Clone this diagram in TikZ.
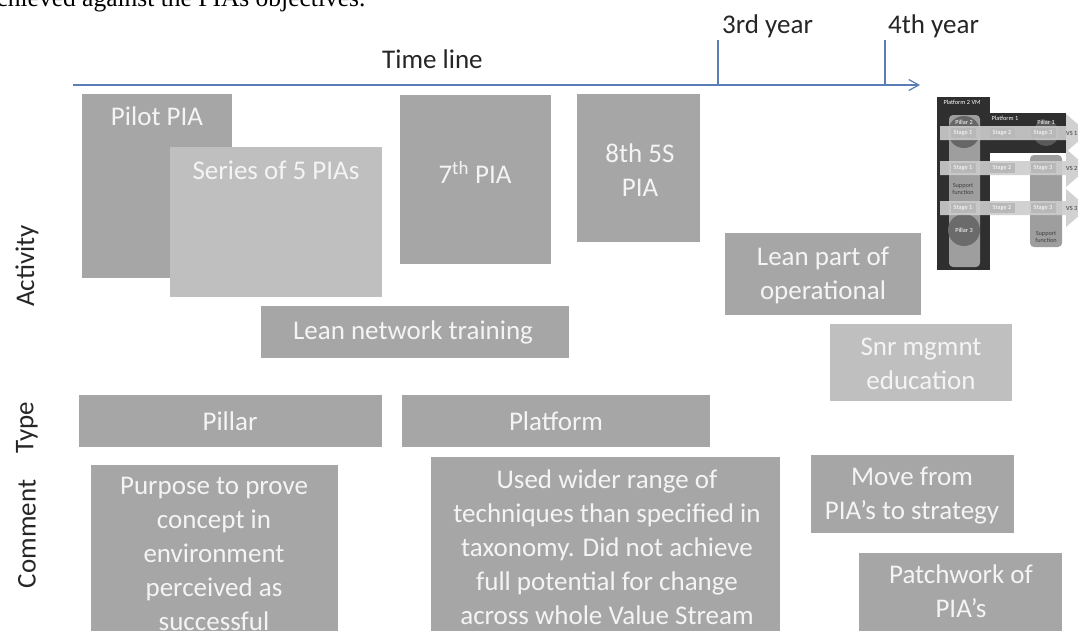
\documentclass[tikz,border=0pt]{standalone}
\usepackage{fontspec}
\setmainfont{Carlito}
\newfontfamily\capfont{Liberation Serif}
\usetikzlibrary{arrows.meta}
\pgfdeclarelayer{bg}
\pgfsetlayers{bg,main}
\definecolor{boxdark}{HTML}{A6A6A6}
\definecolor{boxlight}{HTML}{BFBFBF}
\definecolor{boxtext}{HTML}{F4F4F4}
\definecolor{tlblue}{HTML}{5A7DB5}
\definecolor{insetdark}{HTML}{2F2F2F}
\definecolor{colgray}{HTML}{9E9E9E}
\definecolor{vsgray}{HTML}{CDCDCD}
\definecolor{stagegray}{HTML}{B8B8B8}
\tikzset{
  box/.style={rectangle, inner sep=0, outer sep=0, anchor=north west, fill=boxdark},
  lbox/.style={box, fill=boxlight},
  txt/.style={text=boxtext, font=\fontsize{27}{34}\selectfont, align=center, inner sep=0},
  axislabel/.style={font=\fontsize{27}{32}\selectfont, rotate=90, text=black!85, inner sep=0},
  yearlabel/.style={font=\fontsize{27}{30}\selectfont, text=black!85, inner sep=0, anchor=base west},
  conn/.style={line width=3pt, black},
  tl/.style={line width=1.2pt, tlblue},
  tiny/.style={font=\fontsize{6.3}{7}\selectfont, inner sep=0, align=center},
}
\newcommand\bx[6]{\node[#1, minimum width={#4-#2}, minimum height={#5-#3}] (#6) at (#2,#3) {};}
\newcommand\vsarrow[1]{\fill[vsgray, opacity=0.9] (940,#1-7) -- (1066,#1-7) -- (1066,#1-19) -- (1088,#1) -- (1066,#1+19) -- (1066,#1+7) -- (940,#1+7) -- cycle;}
\newcommand\stagebox[3]{\node[tiny, fill=stagegray, text=white, minimum width=25, minimum height=10] at (#1,#2) {Stage #3};}
\begin{document}
\begin{tikzpicture}[x=1pt, y=-1pt]
\useasboundingbox (0,0) rectangle (1078,630);
\clip (0,0) rectangle (1078,630);
\fill[white] (0,0) rectangle (1078,630);

% caption fragment
\node[anchor=base west, inner sep=0, font=\capfont\fontsize{25.5}{28}\selectfont] (cap) at (-15,6) {achieved against the PIAs objectives.};

% time line
\coordinate (tl0) at (73,85);
\coordinate (tl1) at (920,85);
\coordinate (y3) at (718,40);
\coordinate (y4) at (885,40);
\draw[tl, -{Straight Barb[length=10pt, width=11pt, line width=1.2pt]}] (tl0) -- (tl1);
\draw[tl] (y3) -- (y3 |- tl0);
\draw[tl] (y4) -- (y4 |- tl0);
\node[yearlabel] (y3t) at (722,33) {3rd year};
\node[yearlabel] (y4t) at (888,33) {4th year};
\node[yearlabel] (tlt) at (382,68) {Time line};

% axis labels
\node[axislabel] (act) at (27,266) {Activity};
\node[axislabel] (typ) at (27,428) {Type};
\node[axislabel] (com) at (27,534) {Comment};

% boxes
\bx{box}{82}{94}{232}{278}{pilot}
\node[txt] (pilott) at (157,116) {Pilot PIA};
\bx{lbox}{170}{147}{382}{297}{series}
\node[txt] (seriest) at (276,170) {Series of 5 PIAs};
\bx{box}{400}{95}{551}{264}{seventh}
\node[txt] (seventht) at (475,172) {7\textsuperscript{th} PIA};
\bx{box}{577}{94}{700}{242}{eighth}
\node[txt] (eightht) at (640,170) {8th 5S\\PIA};
\bx{box}{261}{306}{569}{358}{leannet}
\node[txt] (leannett) at (413,332) {Lean network training};
\bx{box}{79}{395}{382}{447}{pillar}
\node[txt] (pillart) at (230,421) {Pillar};
\bx{box}{402}{395}{710}{447}{platform}
\node[txt] (platformt) at (556,421) {Platform};
\bx{box}{91}{465}{338}{660}{purpose}
\node[txt] (purposet) at (214,554) {Purpose to prove\\concept in\\environment\\perceived as\\successful};
\bx{box}{431}{457}{780}{660}{used}
\node[txt] (usedt) at (607,547) {Used wider range of\\techniques than specified in\\taxonomy. Did not achieve\\full potential for change\\across whole Value Stream};
\bx{box}{725}{233}{921}{315}{leanpart}
\node[txt] (leanpartt) at (823,275) {Lean part of\\operational};
\bx{lbox}{830}{324}{1012}{401}{snr}
\node[txt] (snrt) at (921,364) {Snr mgmnt\\education};
\bx{box}{811}{455}{1014}{533}{move}
\node[txt] (movet) at (912,496) {Move from\\PIA's to strategy};
\bx{box}{859}{553}{1062}{660}{patch}
\node[txt] (patcht) at (961,591) {Patchwork of\\PIA's};

% inset: platform / pillar sketch
\fill[insetdark] (937,97) rectangle (990,270);
\fill[insetdark] (990,113) rectangle (1066,153);
\node[tiny, text=white] (p2vm) at (962,102) {Platform 2 VM};
\node[tiny, text=white] (p1) at (1005,118) {Platform 1};
\fill[colgray, rounded corners=4] (949,115) rectangle (980,267);
\fill[colgray, rounded corners=4] (1030,155) rectangle (1062,247);
\fill[black!60] (964,132) circle (16);
\fill[black!65] (1046,133) circle (13);
\fill[black!58] (964,230) circle (16);
\node[tiny, text=white] (pil2) at (964,122) {Pillar 2};
\node[tiny, text=white] (pil1) at (1046,122) {Pillar 1};
\node[tiny, text=white] (pil3) at (964,230) {Pillar 3};
\vsarrow{133}
\vsarrow{168}
\vsarrow{208}
\stagebox{963}{133}{1}\stagebox{1002}{133}{2}\stagebox{1043}{133}{3}
\stagebox{963}{168}{1}\stagebox{1002}{168}{2}\stagebox{1043}{168}{3}
\stagebox{963}{208}{1}\stagebox{1002}{208}{2}\stagebox{1043}{208}{3}
\node[tiny, text=black!80, anchor=west] (vs1) at (1066,133) {VS 1};
\node[tiny, text=black!80, anchor=west] (vs2) at (1066,168) {VS 2};
\node[tiny, text=black!80, anchor=west] (vs3) at (1066,208) {VS 3};
\node[tiny, text=black!75] (sf1) at (963,189) {Support\\function};
\node[tiny, text=black!75] (sf2) at (1046,237) {Support\\function};
\coordinate (insetfoot) at (1053,253);

% connectors (behind boxes)
\begin{pgfonlayer}{bg}
\draw[conn] ([xshift=36]pilot.south west) -- ([xshift=36]pilot.south west |- purpose.north);
\draw[conn] ([xshift=65]seventh.south west) -- ([xshift=65]seventh.south west |- used.north);
\draw[conn] ([xshift=98]eighth.south west) -- ([xshift=98]eighth.south west |- used.north);
\draw[conn] ([xshift=90]leanpart.south west) -- ([xshift=90]leanpart.south west |- move.north);
\draw[conn] ([xshift=24]snr.south west) -- ([xshift=24]snr.south west |- move.north);
\draw[conn] (insetfoot) -- (insetfoot |- patch.north);
\end{pgfonlayer}
\end{tikzpicture}
\end{document}
